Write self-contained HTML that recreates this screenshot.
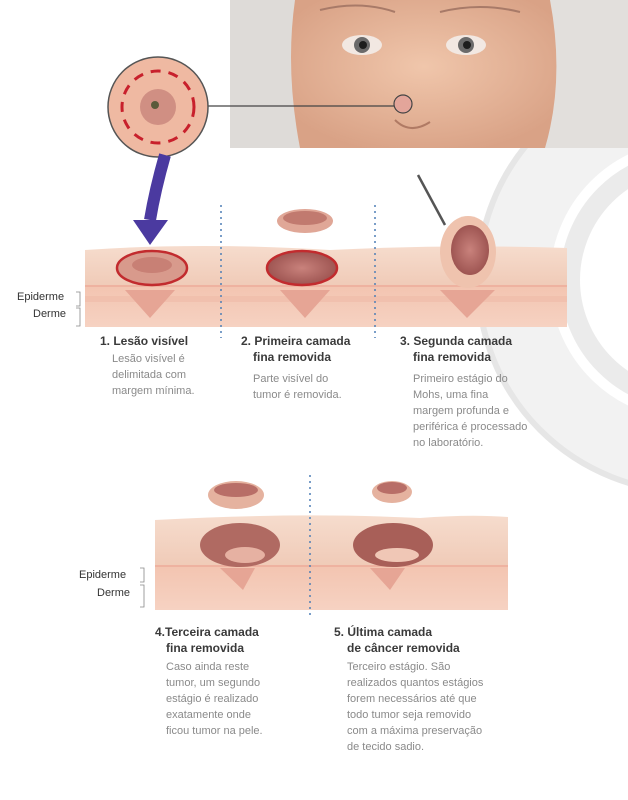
<!DOCTYPE html>
<html><head><meta charset="utf-8"><style>
html,body{margin:0;padding:0;background:#fff;width:628px;height:800px;overflow:hidden}
svg{display:block}
text{font-family:"Liberation Sans",sans-serif}
.h{font-size:12px;font-weight:bold;fill:#3a3a3a}
.b{font-size:11px;fill:#8a8a8a}
.l{font-size:11px;fill:#333}
</style></head><body>
<svg width="628" height="800" viewBox="0 0 628 800">
<defs>
<linearGradient id="side" x1="0" y1="0" x2="0" y2="1"><stop offset="0" stop-color="#f3c4b0"/><stop offset="1" stop-color="#f6d2c2"/></linearGradient>
<linearGradient id="top" x1="0" y1="0" x2="0" y2="1"><stop offset="0" stop-color="#f6dccd"/><stop offset="1" stop-color="#f0cbb8"/></linearGradient>
<radialGradient id="hole"><stop offset="0" stop-color="#c9827c"/><stop offset="1" stop-color="#9e5552"/></radialGradient>
<radialGradient id="skin" cx="0.5" cy="0.45" r="0.6"><stop offset="0" stop-color="#f0c6ab"/><stop offset="1" stop-color="#d9a286"/></radialGradient>
</defs>
<!-- grey arcs right -->
<circle cx="690" cy="280" r="175" fill="none" stroke="#f2f2f2" stroke-width="70"/>
<circle cx="690" cy="280" r="212" fill="none" stroke="#e6e6e6" stroke-width="6"/>
<circle cx="690" cy="280" r="120" fill="none" stroke="#ebebeb" stroke-width="20"/>
<!-- face -->
<rect x="230" y="0" width="398" height="148" fill="#e4e1de"/>
<path d="M230 0 H310 Q290 70 300 148 H230Z" fill="#dedbd8"/>
<path d="M628 0 H540 Q555 70 545 148 H628Z" fill="#e2dfdc"/>
<path d="M295 0 H550 Q565 80 545 148 H300 Q285 70 295 0Z" fill="url(#skin)"/>
<path d="M320 10 Q360 0 395 12" stroke="#a87a68" stroke-width="2" fill="none"/>
<path d="M440 12 Q480 2 520 12" stroke="#a87a68" stroke-width="2" fill="none"/>
<ellipse cx="362" cy="45" rx="20" ry="10" fill="#f2e8e2"/><circle cx="362" cy="45" r="8" fill="#6b6a6a"/><circle cx="363" cy="45" r="4" fill="#1d1d1d"/>
<ellipse cx="466" cy="45" rx="20" ry="10" fill="#f2e8e2"/><circle cx="466" cy="45" r="8" fill="#6b6a6a"/><circle cx="467" cy="45" r="4" fill="#1d1d1d"/>
<path d="M395 120 Q410 135 430 122" stroke="#b07a64" stroke-width="2" fill="none"/>
<circle cx="403" cy="104" r="9" fill="#e3a59a" stroke="#444" stroke-width="1.2"/>
<line x1="207" y1="106" x2="394" y2="106" stroke="#444" stroke-width="1.2"/>
<!-- zoom circle -->
<circle cx="158" cy="107" r="50" fill="#efb9a2" stroke="#555" stroke-width="1.5"/>
<circle cx="158" cy="107" r="18" fill="#d08f83"/>
<circle cx="155" cy="105" r="4" fill="#5a5a3a"/>
<circle cx="158" cy="107" r="36" fill="none" stroke="#c8202c" stroke-width="3" stroke-dasharray="10 8"/>
<!-- arrow -->
<path d="M165 155 Q155 190 150 220" stroke="#4b3aa0" stroke-width="12" fill="none"/>
<path d="M133 220 H168 L150 245Z" fill="#4b3aa0"/>
<!-- top block -->
<path d="M85 250 Q200 242 330 250 Q450 244 567 248 L567 285 H85Z" fill="url(#top)"/>
<rect x="85" y="285" width="482" height="42" fill="url(#side)"/>
<rect x="85" y="285" width="482" height="2" fill="#eeb2a0"/>
<rect x="85" y="296" width="482" height="6" fill="#efbcaa" opacity="0.7"/>
<g fill="#e6a595">
<path d="M125 290 L175 290 L150 318Z"/><path d="M280 290 L330 290 L305 318Z"/><path d="M440 290 L495 290 L467 318Z"/>
</g>
<ellipse cx="152" cy="268" rx="35" ry="17" fill="#d89a8c" stroke="#c22b2e" stroke-width="2.5"/>
<ellipse cx="152" cy="265" rx="20" ry="8" fill="#c88075"/>
<ellipse cx="302" cy="268" rx="35" ry="17" fill="url(#hole)" stroke="#c22b2e" stroke-width="2.5"/>
<ellipse cx="305" cy="221" rx="28" ry="12" fill="#e0a797"/>
<ellipse cx="305" cy="218" rx="22" ry="7" fill="#c17a6f"/>
<ellipse cx="468" cy="252" rx="28" ry="36" fill="#efc3ae"/>
<ellipse cx="470" cy="250" rx="19" ry="25" fill="url(#hole)"/>
<line x1="418" y1="175" x2="445" y2="225" stroke="#555" stroke-width="2.5"/>
<line x1="221" y1="205" x2="221" y2="338" stroke="#4f7fb5" stroke-width="1.5" stroke-dasharray="2 4"/>
<line x1="375" y1="205" x2="375" y2="338" stroke="#4f7fb5" stroke-width="1.5" stroke-dasharray="2 4"/>
<text class="l" x="17" y="300">Epiderme</text><text class="l" x="33" y="317">Derme</text>
<path d="M76 292h4v14h-4M76 308h4v18h-4" stroke="#888" fill="none" stroke-width="0.8"/>
<!-- texts 1-3 -->
<text class="h" x="100" y="345">1. Lesão visível</text>
<text class="b" x="112" y="362">Lesão visível é</text>
<text class="b" x="112" y="378">delimitada com</text>
<text class="b" x="112" y="394">margem mínima.</text>
<text class="h" x="241" y="345">2. Primeira camada</text>
<text class="h" x="253" y="361">fina removida</text>
<text class="b" x="253" y="382">Parte visível do</text>
<text class="b" x="253" y="398">tumor é removida.</text>
<text class="h" x="400" y="345">3. Segunda camada</text>
<text class="h" x="413" y="361">fina removida</text>
<text class="b" x="413" y="382">Primeiro estágio do</text>
<text class="b" x="413" y="398">Mohs, uma fina</text>
<text class="b" x="413" y="414">margem profunda e</text>
<text class="b" x="413" y="430">periférica é processado</text>
<text class="b" x="413" y="446">no laboratório.</text>
<!-- bottom block -->
<path d="M155 520 Q300 512 420 518 Q470 514 508 517 L508 565 H155Z" fill="url(#top)"/>
<rect x="155" y="565" width="353" height="45" fill="url(#side)"/>
<rect x="155" y="565" width="353" height="2" fill="#eeb2a0"/>
<g fill="#e6a595"><path d="M220 568 L255 568 L243 590Z"/><path d="M370 568 L405 568 L390 590Z"/></g>
<ellipse cx="240" cy="545" rx="40" ry="22" fill="#b06a62"/>
<ellipse cx="245" cy="555" rx="20" ry="8" fill="#e6b1a2"/>
<ellipse cx="393" cy="545" rx="40" ry="22" fill="#a85f58"/>
<ellipse cx="397" cy="555" rx="22" ry="7" fill="#f0c7b6"/>
<ellipse cx="236" cy="495" rx="28" ry="14" fill="#e5b29f"/><ellipse cx="236" cy="490" rx="22" ry="7" fill="#b86e67"/>
<ellipse cx="392" cy="492" rx="20" ry="11" fill="#e5b29f"/><ellipse cx="392" cy="488" rx="15" ry="6" fill="#b86e67"/>
<line x1="310" y1="475" x2="310" y2="618" stroke="#4f7fb5" stroke-width="1.5" stroke-dasharray="2 4"/>
<text class="l" x="79" y="578">Epiderme</text><text class="l" x="97" y="596">Derme</text>
<path d="M140 568h4v14h-4M140 585h4v22h-4" stroke="#888" fill="none" stroke-width="0.8"/>
<text class="h" x="155" y="636">4.Terceira camada</text>
<text class="h" x="166" y="652">fina removida</text>
<text class="b" x="166" y="670">Caso ainda reste</text>
<text class="b" x="166" y="686">tumor, um segundo</text>
<text class="b" x="166" y="702">estágio é realizado</text>
<text class="b" x="166" y="718">exatamente onde</text>
<text class="b" x="166" y="734">ficou tumor na pele.</text>
<text class="h" x="334" y="636">5. Última camada</text>
<text class="h" x="347" y="652">de câncer removida</text>
<text class="b" x="347" y="670">Terceiro estágio. São</text>
<text class="b" x="347" y="686">realizados quantos estágios</text>
<text class="b" x="347" y="702">forem necessários até que</text>
<text class="b" x="347" y="718">todo tumor seja removido</text>
<text class="b" x="347" y="734">com a máxima preservação</text>
<text class="b" x="347" y="750">de tecido sadio.</text>
</svg>
</body></html>
